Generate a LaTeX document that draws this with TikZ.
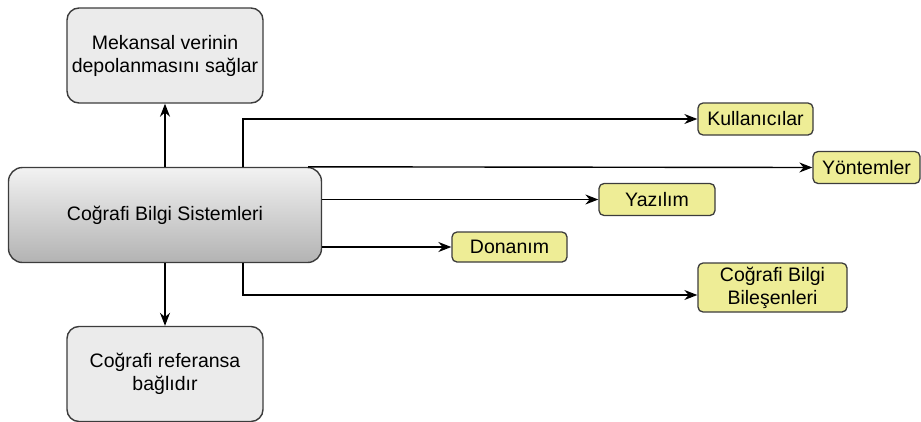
\documentclass[tikz,border=0pt]{standalone}
\usepackage{fontspec}
\setmainfont{Liberation Sans}
\usetikzlibrary{arrows.meta}

\definecolor{kutugri}{RGB}{235,235,235}
\definecolor{kutusari}{RGB}{238,237,150}
\definecolor{kenar}{RGB}{60,60,60}

\tikzset{
  grikutu/.style={draw=kenar, line width=1.4pt, fill=kutugri, rounded corners=12pt,
    minimum width=196pt, minimum height=95pt, align=center, inner sep=0pt},
  sarikutu/.style={draw=kenar, line width=1.3pt, fill=kutusari, rounded corners=5pt,
    minimum height=32pt, align=center, inner sep=0pt},
  ok/.style={line width=1.4pt, -{Stealth[length=13pt,width=10pt]}}
}

\begin{document}
\begin{tikzpicture}[x=1pt, y=-1pt, font=\fontsize{19.5}{23}\selectfont]
  \useasboundingbox (0,0) rectangle (921,421);

  % 中间主框
  \node[draw=kenar, line width=1.4pt, rounded corners=14pt, top color=white!95!black,
        bottom color=black!30, minimum width=313pt, minimum height=95pt,
        inner sep=0pt] (cbs) at (165,215) {Coğrafi Bilgi Sistemleri};

  % 上下两个灰框
  \node[grikutu] (mekan) at (165,55.5) {Mekansal verinin\\depolanmasını sağlar};
  \node[grikutu] (referans) at (165,374) {Coğrafi referansa\\bağlıdır};

  \draw[ok] (cbs.north) -- (mekan.south);
  \draw[ok] (cbs.south) -- (referans.north);

  % 右边黄框
  \node[sarikutu, minimum width=115pt] (kul) at (755.5,119) {Kullanıcılar};
  \node[sarikutu, minimum width=107pt] (yon) at (866.5,167.5) {Yöntemler};
  \node[sarikutu, minimum width=116pt] (yaz) at (657,199.5) {Yazılım};
  \node[sarikutu, minimum width=115pt, minimum height=30pt] (don) at (509.5,247) {Donanım};
  \node[sarikutu, minimum width=149pt, minimum height=49pt] (bil) at (772.5,287.5) {Coğrafi Bilgi\\Bileşenleri};

  % 分支点
  \coordinate (ust) at (243,0);
  \coordinate (alt) at (243,295);

  \draw[ok] (cbs.north -| ust) |- (kul.west);
  \draw[ok] ([xshift=-14pt]cbs.north east) -- (yon.west);
  \draw[ok] (cbs.east |- yaz.west) -- (yaz.west);
  \draw[ok] (cbs.east |- don.west) -- (don.west);
  \draw[ok] (cbs.south -| alt) |- (bil.west |- alt);

\end{tikzpicture}
\end{document}
